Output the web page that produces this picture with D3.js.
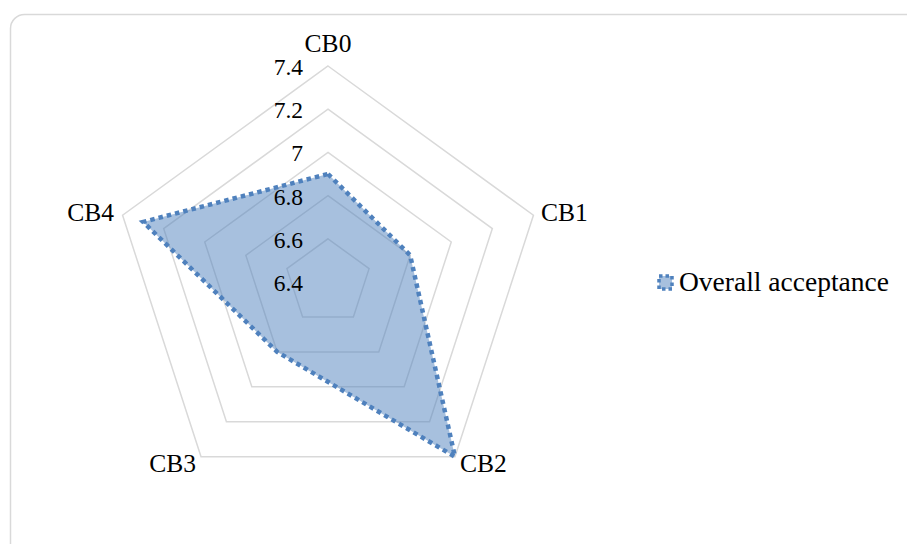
<!DOCTYPE html>
<html>
<head>
<meta charset="utf-8">
<script src="https://cdn.jsdelivr.net/npm/d3@7"></script>
<style>
	body { margin: 0; background: #fff; }
</style>
</head>
<body>
<svg id="chart" width="907" height="544"></svg>
<script>
var categories = ["CB0", "CB1", "CB2", "CB3", "CB4"],
	values = [6.9, 6.8, 7.4, 6.8, 7.3],
	ticks = [6.4, 6.6, 6.8, 7, 7.2, 7.4],
	series_name = "Overall acceptance";

var svg = d3.select("#chart"),
	cx = 328,
	cy = 282,
	radius = 216,
	serif = "Liberation Serif";

// chart frame
svg.append("rect")
	.attr("x", 10.5).attr("y", 14.5)
	.attr("width", 920).attr("height", 545)
	.attr("rx", 14)
	.attr("fill", "#fff")
	.attr("stroke", "#d9d9d9")
	.attr("stroke-width", 1.5);

var r = d3.scaleLinear()
	.domain([6.4, 7.4])
	.range([0, radius]);

var angle = d3.scalePoint()
	.domain(categories)
	.range([0, 2 * Math.PI * 4 / 5]);

function point(cat, v) {
	var a = angle(cat);
	return [cx + r(v) * Math.sin(a), cy - r(v) * Math.cos(a)];
}

var plotarea = svg.append("g");

// rings
plotarea.selectAll(".ring")
	.data(ticks.slice(1))
	.enter()
	.append("polygon")
	.attr("class", "ring")
	.attr("points", function(t) {
		return categories.map(function(c) { return point(c, t).join(","); }).join(" ");
	})
	.attr("fill", "none")
	.attr("stroke", "#d9d9d9")
	.attr("stroke-width", 1.5);

// series
var line = d3.line().curve(d3.curveLinearClosed);
plotarea.append("path")
	.attr("d", line(categories.map(function(c, i) { return point(c, values[i]); })))
	.attr("fill", "rgba(79,129,189,0.5)")
	.attr("stroke", "#4f81bd")
	.attr("stroke-width", 4.5)
	.attr("stroke-dasharray", "4.5 4");

// tick labels
plotarea.selectAll(".tick")
	.data(ticks)
	.enter()
	.append("text")
	.attr("class", "tick")
	.attr("x", cx - 25)
	.attr("y", function(t) { return cy - r(t) + 9; })
	.attr("text-anchor", "end")
	.attr("font-family", serif)
	.attr("font-size", 23.5)
	.attr("fill", "#000")
	.text(function(t) { return t; });

// category labels
var label_pos = {
	CB0: { x: cx, y: 52, anchor: "middle" },
	CB1: { x: 541, y: 221, anchor: "start" },
	CB2: { x: 460, y: 472, anchor: "start" },
	CB3: { x: 196, y: 472, anchor: "end" },
	CB4: { x: 114, y: 221, anchor: "end" }
};
plotarea.selectAll(".cat")
	.data(categories)
	.enter()
	.append("text")
	.attr("class", "cat")
	.attr("x", function(d) { return label_pos[d].x; })
	.attr("y", function(d) { return label_pos[d].y; })
	.attr("text-anchor", function(d) { return label_pos[d].anchor; })
	.attr("font-family", serif)
	.attr("font-size", 25.5)
	.attr("fill", "#000")
	.text(function(d) { return d; });

// legend
var legend = svg.append("g")
	.attr("transform", "translate(659,276)");
legend.append("rect")
	.attr("width", 13).attr("height", 13)
	.attr("fill", "rgba(79,129,189,0.5)")
	.attr("stroke", "#4f81bd")
	.attr("stroke-width", 3.5)
	.attr("stroke-dasharray", "3.5 3");
legend.append("text")
	.attr("x", 20).attr("y", 15)
	.attr("font-family", serif)
	.attr("font-size", 27.5)
	.attr("fill", "#000")
	.text(series_name);
</script>
</body>
</html>
